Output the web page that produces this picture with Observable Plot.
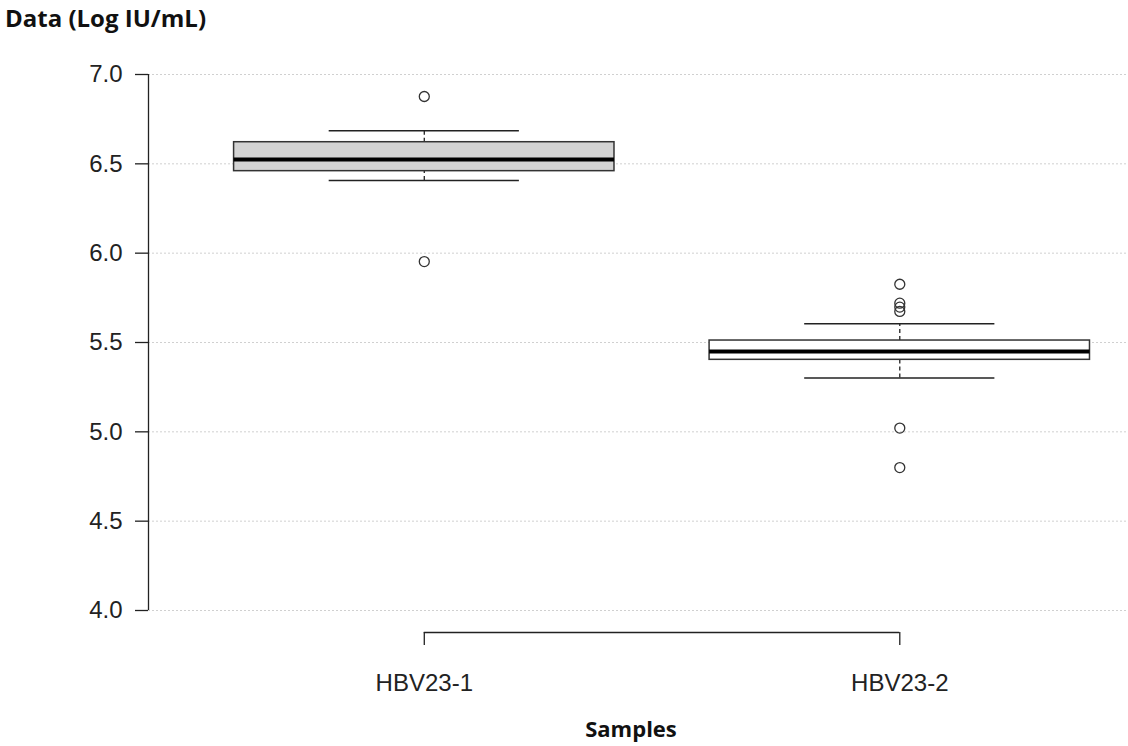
<!DOCTYPE html>
<html>
<head>
<meta charset="utf-8">
<script src="https://cdn.jsdelivr.net/npm/d3@7"></script>
<script src="https://cdn.jsdelivr.net/npm/@observablehq/plot@0.6"></script>
<style>
  html, body { margin: 0; padding: 0; background: #fff; }
  #wrap { position: relative; width: 1128px; height: 746px; }
  .lbl { position: absolute; font-family: "Open Sans", Lato, sans-serif; font-weight: bold; font-size: 22px; line-height: 1; color: #111; white-space: nowrap; }
  #ytitle { left: 5px; top: 6px; font-size: 24px; }
  #xtitle { left: 631px; top: 717px; transform: translateX(-50%); }
</style>
</head>
<body>
<div id="wrap">
  <div id="chart"></div>
  <div class="lbl" id="ytitle">Data (Log IU/mL)</div>
  <div class="lbl" id="xtitle">Samples</div>
</div>
<script>
// ---- data ----
const categories = ["HBV23-1", "HBV23-2"];
const q1 = [6.459, 5.403];
const median = [6.524, 5.450];
const q3 = [6.621, 5.511];
const whiskerLow = [6.407, 5.302];
const whiskerHigh = [6.685, 5.605];
const outliers1 = [6.877, 5.953];
const outliers2 = [5.826, 5.720, 5.698, 5.674, 5.021, 4.800];
const yTicks = [4.0, 4.5, 5.0, 5.5, 6.0, 6.5, 7.0];

// ---- build tables ----
const boxes = categories.map((c, i) => ({
  cat: c, pos: i + 1, q1: q1[i], median: median[i], q3: q3[i],
  lo: whiskerLow[i], hi: whiskerHigh[i]
}));
const outlierPts = [
  ...outliers1.map(v => ({pos: 1, v})),
  ...outliers2.map(v => ({pos: 2, v}))
];
const fills = ["#d3d3d3", "#ffffff"];
const xDomain = [0.42, 2.481];

const chart = Plot.plot({
  width: 1128,
  height: 746,
  marginLeft: 148,
  marginRight: 0,
  marginTop: 74,
  marginBottom: 136,
  style: {fontFamily: "'Liberation Sans', Arial, sans-serif", fontSize: "24px", color: "#222", background: "#fff"},
  x: {type: "linear", domain: xDomain},
  y: {domain: [4, 7]},
  marks: [
    Plot.ruleY(yTicks, {stroke: "#d0d0d0", strokeWidth: 1, strokeDasharray: "2,2"}),
    // whisker dashed stems
    Plot.ruleX(boxes, {x: "pos", y1: "q3", y2: "hi", stroke: "#222", strokeWidth: 1.3, strokeDasharray: "4,3"}),
    Plot.ruleX(boxes, {x: "pos", y1: "lo", y2: "q1", stroke: "#222", strokeWidth: 1.3, strokeDasharray: "4,3"}),
    // whisker caps
    Plot.ruleY(boxes, {y: "hi", x1: d => d.pos - 0.2, x2: d => d.pos + 0.2, stroke: "#222", strokeWidth: 1.5}),
    Plot.ruleY(boxes, {y: "lo", x1: d => d.pos - 0.2, x2: d => d.pos + 0.2, stroke: "#222", strokeWidth: 1.5}),
    // boxes
    Plot.rect(boxes, {x1: d => d.pos - 0.4, x2: d => d.pos + 0.4, y1: "q1", y2: "q3", fill: (d, i) => fills[i], stroke: "#333", strokeWidth: 1.5}),
    // medians
    Plot.ruleY(boxes, {y: "median", x1: d => d.pos - 0.4, x2: d => d.pos + 0.4, stroke: "#000", strokeWidth: 4}),
    // outliers
    Plot.dot(outlierPts, {x: "pos", y: "v", r: 5, stroke: "#333", strokeWidth: 1.3, fill: "none"}),
    // y axis
    Plot.ruleX([xDomain[0]], {y1: 4, y2: 7, stroke: "#222", strokeWidth: 1.3}),
    Plot.axisY({ticks: yTicks, tickFormat: d3.format(".1f"), tickSize: 13, tickPadding: 13, label: null, strokeWidth: 1.3, fontSize: 24}),
    // x axis bracket
    Plot.ruleY([4], {x1: 1, x2: categories.length, dy: 22, stroke: "#222", strokeWidth: 1.3}),
    Plot.axisX({ticks: boxes.map(d => d.pos), tickFormat: p => categories[p - 1], tickSize: 13, tickPadding: 28, dy: 22, label: null, strokeWidth: 1.3, fontSize: 24})
  ]
});
document.getElementById("chart").appendChild(chart);
</script>
</body>
</html>
